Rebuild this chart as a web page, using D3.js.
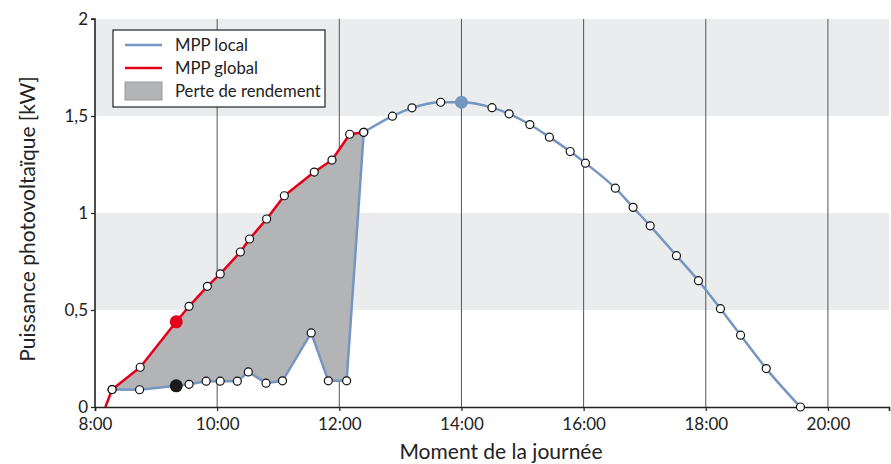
<!DOCTYPE html>
<html>
<head>
<meta charset="utf-8">
<script src="https://cdn.jsdelivr.net/npm/d3@7"></script>
<style>
  body { margin: 0; background: #fff; }
  svg { display: block; font-family: Lato, "Open Sans", sans-serif; }
</style>
</head>
<body>
<script>
// heures decimales / kW
var globalTimes = [8.17, 8.28, 8.74, 9.33, 9.54, 9.84, 10.05, 10.38, 10.53, 10.81, 11.10, 11.59, 11.88, 12.17, 12.40];
var globalPower = [0, 0.09, 0.205, 0.439, 0.519, 0.622, 0.686, 0.799, 0.866, 0.969, 1.089, 1.211, 1.273, 1.406, 1.416];

var localLowTimes = [8.28, 8.73, 9.33, 9.54, 9.82, 10.05, 10.33, 10.51, 10.80, 11.07, 11.54, 11.82, 12.12, 12.40];
var localLowPower = [0.09, 0.089, 0.109, 0.117, 0.133, 0.133, 0.133, 0.181, 0.123, 0.135, 0.382, 0.135, 0.135, 1.416];

var localTimes = [12.40, 12.87, 13.19, 13.66, 14.00, 14.50, 14.78, 15.12, 15.44, 15.78, 16.03, 16.52, 16.81, 17.09, 17.52, 17.88, 18.24, 18.57, 18.99, 19.55];
var localPower = [1.416, 1.499, 1.542, 1.571, 1.571, 1.543, 1.511, 1.456, 1.391, 1.317, 1.257, 1.128, 1.029, 0.934, 0.780, 0.651, 0.507, 0.370, 0.198, 0];

// gros points: MPP global, MPP local (bas), maximum
var bigDots = [
    {t: 9.33, p: 0.439, color: "#e2001a"},
    {t: 9.33, p: 0.109, color: "#1a1a1a"},
    {t: 14.00, p: 1.571, color: "#7596c0"}
];

var xTicks = [8, 10, 12, 14, 16, 18, 20];
var yTicks = [0, 0.5, 1, 1.5, 2];
var bands = [[0.5, 1], [1.5, 2]];

var legendItems = ["MPP local", "MPP global", "Perte de rendement"];

(function () {
    var width = 891, height = 464;
    var mLeft = 95, mRight = 889, mTop = 19, mBottom = 407;

    var blue = "#7596c0", red = "#e2001a";

    var svg = d3.select("body").append("svg")
        .attr("width", width)
        .attr("height", height);

    var x = d3.scaleLinear().domain([8, 21]).range([mLeft, mRight]);
    var y = d3.scaleLinear().domain([0, 2]).range([mBottom, mTop]);

    function zip(ts, ps) {
        return ts.map(function (t, i) { return {t: t, p: ps[i]}; });
    }
    var globalData = zip(globalTimes, globalPower);
    var lowData = zip(localLowTimes, localLowPower);
    var localData = zip(localTimes, localPower);

    // bandes grises
    svg.selectAll("rect.band")
        .data(bands)
        .enter()
        .append("rect")
        .attr("class", "band")
        .attr("x", mLeft)
        .attr("width", mRight - mLeft)
        .attr("y", function (d) { return y(d[1]); })
        .attr("height", function (d) { return y(d[0]) - y(d[1]); })
        .attr("fill", "#ebeced");

    // grille verticale
    svg.selectAll("line.grid")
        .data(xTicks.slice(1))
        .enter()
        .append("line")
        .attr("class", "grid")
        .attr("x1", function (d) { return x(d); })
        .attr("x2", function (d) { return x(d); })
        .attr("y1", mTop)
        .attr("y2", mBottom)
        .attr("stroke", "#555")
        .attr("stroke-width", 1);

    var straight = d3.line()
        .x(function (d) { return x(d.t); })
        .y(function (d) { return y(d.p); });
    var smooth = d3.line()
        .curve(d3.curveMonotoneX)
        .x(function (d) { return x(d.t); })
        .y(function (d) { return y(d.p); });

    // surface de perte
    var fillPts = globalData.slice(1).concat(lowData.slice().reverse());
    svg.append("path")
        .datum(fillPts)
        .attr("d", straight)
        .attr("fill", "#b3b4b6")
        .attr("stroke", "none");

    svg.append("path")
        .datum(lowData)
        .attr("d", straight)
        .attr("fill", "none")
        .attr("stroke", blue)
        .attr("stroke-width", 2.5)
        .attr("stroke-linejoin", "round");

    svg.append("path")
        .datum(localData)
        .attr("d", smooth)
        .attr("fill", "none")
        .attr("stroke", blue)
        .attr("stroke-width", 2.5);

    svg.append("path")
        .datum(globalData)
        .attr("d", straight)
        .attr("fill", "none")
        .attr("stroke", red)
        .attr("stroke-width", 2.5)
        .attr("stroke-linejoin", "round");

    // axes
    var yAxis = d3.axisLeft(y)
        .tickValues(yTicks)
        .tickSize(4)
        .tickPadding(3)
        .tickFormat(function (d) { return String(d).replace(".", ","); });
    var gy = svg.append("g")
        .attr("transform", "translate(" + mLeft + ",0)")
        .call(yAxis);

    var xAxis = d3.axisBottom(x)
        .tickValues(xTicks)
        .tickSize(4)
        .tickPadding(7)
        .tickFormat(function (d) { return d + ":00"; });
    var gx = svg.append("g")
        .attr("transform", "translate(0," + mBottom + ")")
        .call(xAxis);

    [gx, gy].forEach(function (g) {
        g.select(".domain").attr("stroke", "#222").attr("stroke-width", 1.6);
        g.selectAll(".tick line").attr("stroke", "#222").attr("stroke-width", 1.2);
        g.selectAll(".tick text")
            .attr("font-family", "Lato, sans-serif")
            .attr("font-size", "17px")
            .attr("fill", "#222");
    });
    gy.select(".domain").attr("d", "M0," + mBottom + "V" + mTop + "H-4");
    gy.selectAll(".tick text").attr("dy", "0.3em");

    // marqueurs
    var markerPts = globalData.slice(1).concat(lowData.slice(0, -1), localData)
        .filter(function (d) { return d.t !== 9.33 && d.t !== 14.00; });
    svg.selectAll("circle.pt")
        .data(markerPts)
        .enter()
        .append("circle")
        .attr("class", "pt")
        .attr("cx", function (d) { return x(d.t); })
        .attr("cy", function (d) { return y(d.p); })
        .attr("r", 4)
        .attr("fill", "#fff")
        .attr("stroke", "#111")
        .attr("stroke-width", 1.2);

    svg.selectAll("circle.big")
        .data(bigDots)
        .enter()
        .append("circle")
        .attr("class", "big")
        .attr("cx", function (d) { return x(d.t); })
        .attr("cy", function (d) { return y(d.p); })
        .attr("r", 6.5)
        .attr("fill", function (d) { return d.color; });

    // titres des axes
    svg.append("text")
        .attr("x", 501)
        .attr("y", 459)
        .attr("text-anchor", "middle")
        .attr("font-size", "21px")
        .attr("fill", "#222")
        .text("Moment de la journée");

    svg.append("text")
        .attr("transform", "translate(35,219) rotate(-90)")
        .attr("text-anchor", "middle")
        .attr("font-size", "21px")
        .attr("fill", "#222")
        .text("Puissance photovoltaïque [kW]");

    // legende
    var lg = svg.append("g").attr("transform", "translate(113,30)");
    lg.append("rect")
        .attr("width", 212)
        .attr("height", 77)
        .attr("fill", "#fff")
        .attr("stroke", "#222")
        .attr("stroke-width", 1.2);

    var rows = lg.selectAll("g.row")
        .data(legendItems)
        .enter()
        .append("g")
        .attr("class", "row")
        .attr("transform", function (d, i) { return "translate(0," + (15 + i * 23) + ")"; });

    rows.each(function (d, i) {
        var r = d3.select(this);
        if (i < 2) {
            r.append("line")
                .attr("x1", 12).attr("x2", 49)
                .attr("y1", 0).attr("y2", 0)
                .attr("stroke", i === 0 ? blue : red)
                .attr("stroke-width", 2.5);
        } else {
            r.append("rect")
                .attr("x", 12).attr("y", -9)
                .attr("width", 37).attr("height", 18)
                .attr("fill", "#b3b4b6")
                .attr("stroke", "#999")
                .attr("stroke-width", 1);
        }
        r.append("text")
            .attr("x", 62)
            .attr("y", 6)
            .attr("font-size", "16.7px")
            .attr("fill", "#222")
            .text(d);
    });
})();
</script>
</body>
</html>
